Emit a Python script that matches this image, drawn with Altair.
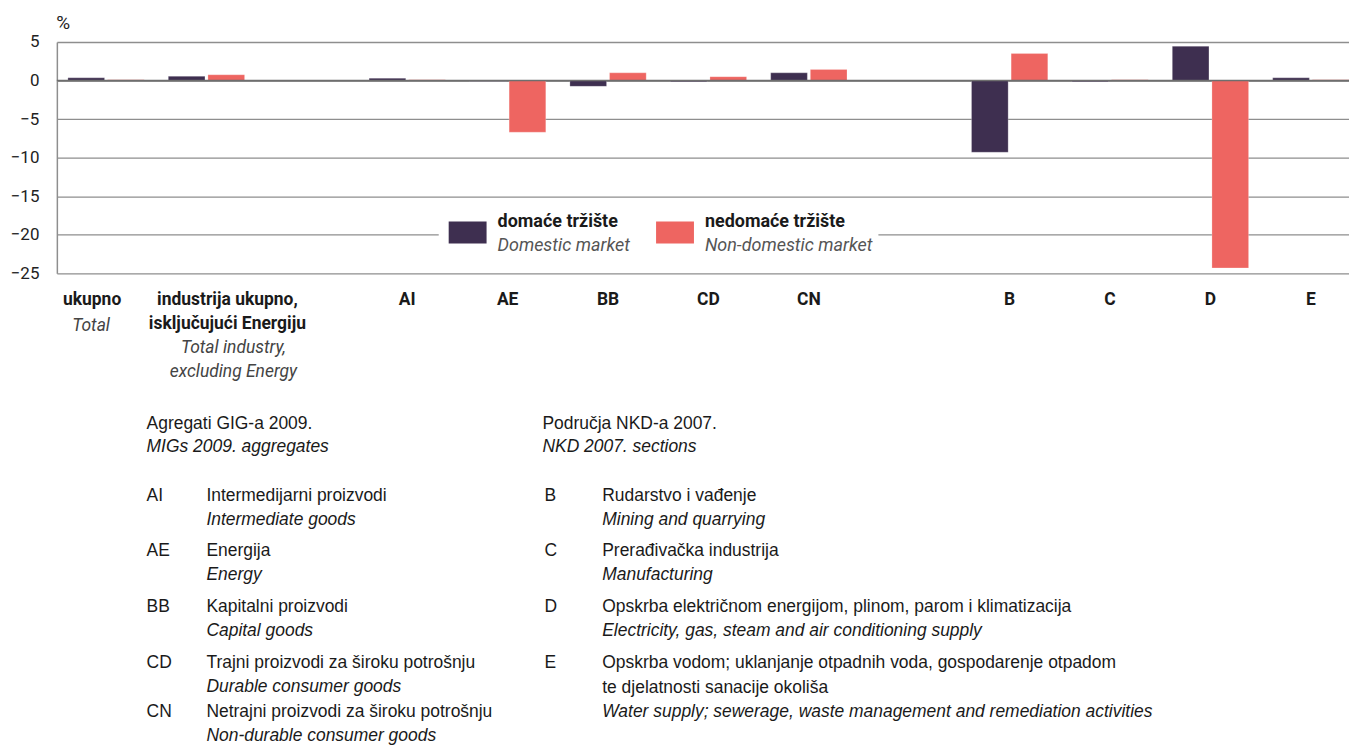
import altair as alt
import pandas as pd

# ---------------- data ----------------
slots = ["ukupno", "industrija", "gap1", "AI", "AE", "BB", "CD", "CN", "gap2", "B", "C", "D", "E"]
categories = ["ukupno", "industrija", "AI", "AE", "BB", "CD", "CN", "B", "C", "D", "E"]
domestic = [0.35, 0.55, 0.3, -0.1, -0.75, -0.15, 1.0, -9.3, -0.15, 4.45, 0.35]
nondomestic = [0.1, 0.75, 0.1, -6.7, 1.0, 0.5, 1.45, 3.5, 0.1, -24.3, 0.1]
series_hr = ["domaće tržište", "nedomaće tržište"]
series_en = ["Domestic market", "Non-domestic market"]
colors = ["#3e2f50", "#ee6561"]
y_ticks = [5, 0, -5, -10, -15, -20, -25]

bold_labels = {
    "ukupno": "ukupno",
    "industrija": "industrija ukupno,\nisključujući Energiju",
    "AI": "AI", "AE": "AE", "BB": "BB", "CD": "CD", "CN": "CN",
    "B": "B", "C": "C", "D": "D", "E": "E",
}
italic_total = "Total"
italic_industry = "Total industry,\nexcluding Energy"

left_header = ["Agregati GIG-a 2009.", "MIGs 2009. aggregates"]
right_header = ["Područja NKD-a 2007.", "NKD 2007. sections"]
left_codes = ["AI", "AE", "BB", "CD", "CN"]
left_hr = ["Intermedijarni proizvodi", "Energija", "Kapitalni proizvodi",
           "Trajni proizvodi za široku potrošnju", "Netrajni proizvodi za široku potrošnju"]
left_en = ["Intermediate goods", "Energy", "Capital goods",
           "Durable consumer goods", "Non-durable consumer goods"]
right_codes = ["B", "C", "D", "E"]
right_hr = ["Rudarstvo i vađenje", "Prerađivačka industrija",
            "Opskrba električnom energijom, plinom, parom i klimatizacija",
            "Opskrba vodom; uklanjanje otpadnih voda, gospodarenje otpadom\nte djelatnosti sanacije okoliša"]
right_en = ["Mining and quarrying", "Manufacturing",
            "Electricity, gas, steam and air conditioning supply",
            "Water supply; sewerage, waste management and remediation activities"]

rows = []
for c, d, n in zip(categories, domestic, nondomestic):
    rows.append({"cat": c, "series": series_hr[0], "value": d})
    rows.append({"cat": c, "series": series_hr[1], "value": n})
df = pd.DataFrame(rows)

# ---------------- styling ----------------
COND = "Roboto, Liberation Sans, sans-serif"
REG = "Liberation Sans, Arial, sans-serif"
W, H = 1296, 232
GRID = "#8e8e8e"

xscale = alt.Scale(domain=slots, paddingInner=0.24, paddingOuter=0.055, align=1)
X = alt.X("cat:N", scale=xscale, axis=None)
yscale = alt.Scale(domain=[-25, 5], nice=False, zero=False)

yaxis = alt.Axis(values=y_ticks, grid=True, gridColor=GRID, gridWidth=1.3,
                 domain=True, domainColor=GRID, domainWidth=1.5, ticks=False,
                 labelPadding=18, labelFontSize=17, labelColor="#222", labelFont=COND,
                 title="%", titleAngle=0, titleAlign="left", titleBaseline="middle",
                 titleX=-1, titleY=-20, titleFontSize=19, titleFontWeight="normal",
                 titleFont=COND, titleColor="#222")

bars = alt.Chart(df).mark_bar(stroke="#ffffff", strokeWidth=0.4, strokeOpacity=0.6).encode(
    x=X,
    xOffset=alt.XOffset("series:N", scale=alt.Scale(domain=series_hr, paddingInner=0.075)),
    y=alt.Y("value:Q", scale=yscale, axis=yaxis),
    color=alt.Color("series:N", scale=alt.Scale(domain=series_hr, range=colors), legend=None),
)

zero = alt.Chart(pd.DataFrame({"v": [0]})).mark_rule(color="#6e6e6e", strokeWidth=1.4).encode(
    y=alt.Y("v:Q", scale=yscale, axis=yaxis))

one = pd.DataFrame({"a": [0]})

# legend (drawn manually to allow two-line bold/italic labels)
legend_layers = [
    alt.Chart(one).mark_rect(fill="white").encode(
        x=alt.value(383), x2=alt.value(824), y=alt.value(168), y2=alt.value(216)),
]
for i, (lx, tx) in enumerate([(393, 442), (601, 650)]):
    legend_layers.append(alt.Chart(one).mark_rect(fill=colors[i]).encode(
        x=alt.value(lx), x2=alt.value(lx + 38), y=alt.value(180), y2=alt.value(202)))
    legend_layers.append(alt.Chart(one).mark_text(
        align="left", baseline="alphabetic", font=COND, fontSize=18, fontWeight="bold", color="#1a1a1a"
    ).encode(x=alt.value(tx), y=alt.value(186), text=alt.value(series_hr[i])))
    legend_layers.append(alt.Chart(one).mark_text(
        align="left", baseline="alphabetic", font=COND, fontSize=18, fontStyle="italic", color="#555"
    ).encode(x=alt.value(tx), y=alt.value(210), text=alt.value(series_en[i])))

# category labels under axis
bl_df = pd.DataFrame({"cat": list(bold_labels.keys()), "label": list(bold_labels.values())})
cat_bold = alt.Chart(bl_df[~bl_df.cat.isin(["ukupno", "industrija"])]).mark_text(
    align="center", baseline="alphabetic", font=COND, fontSize=17.5, fontWeight="bold",
    color="#1a1a1a"
).encode(x=X, y=alt.value(264), text="label:N")
cat_bold_ind = alt.Chart(bl_df[bl_df.cat == "industrija"]).mark_text(
    align="center", baseline="alphabetic", font=COND, fontSize=17.5, fontWeight="bold",
    color="#1a1a1a", lineBreak="\n", lineHeight=24, dx=21
).encode(x=X, y=alt.value(264), text="label:N")
cat_bold_u = alt.Chart(bl_df[bl_df.cat == "ukupno"]).mark_text(
    align="center", baseline="alphabetic", font=COND, fontSize=17.5, fontWeight="bold",
    color="#1a1a1a", dx=-14
).encode(x=X, y=alt.value(264), text="label:N")
cat_it_total = alt.Chart(pd.DataFrame({"cat": ["ukupno"], "label": [italic_total]})).mark_text(
    align="center", baseline="alphabetic", font=COND, fontSize=17.5, fontStyle="italic",
    color="#444", dx=-15
).encode(x=X, y=alt.value(290), text="label:N")
cat_it_ind = alt.Chart(pd.DataFrame({"cat": ["industrija"], "label": [italic_industry]})).mark_text(
    align="center", baseline="alphabetic", font=COND, fontSize=17.5, fontStyle="italic",
    color="#444", lineBreak="\n", lineHeight=24, dx=27
).encode(x=X, y=alt.value(312), text="label:N")

# notes below
def txt(s, x, y, italic=False, size=17.5):
    return alt.Chart(one).mark_text(
        align="left", baseline="alphabetic", font=REG, fontSize=size,
        fontStyle="italic" if italic else "normal", color="#1a1a1a",
        lineBreak="\n", lineHeight=25
    ).encode(x=alt.value(x), y=alt.value(y), text=alt.value(s))

notes = [
    txt(left_header[0], 90, 388), txt(left_header[1], 90, 411, italic=True),
    txt(right_header[0], 487, 388), txt(right_header[1], 487, 411, italic=True),
]
left_y = [460, 516, 572, 628, 677]
for code, hr, en, y in zip(left_codes, left_hr, left_en, left_y):
    notes += [txt(code, 90, y), txt(hr, 150, y), txt(en, 150, y + 24, italic=True)]
right_y = [460, 516, 572, 628]
for code, hr, en, y in zip(right_codes, right_hr, right_en, right_y):
    nl = hr.count("\n")
    notes += [txt(code, 489, y), txt(hr, 547, y), txt(en, 547, y + 24 + 25 * nl, italic=True)]

chart = alt.layer(
    bars, zero, *legend_layers, cat_bold, cat_bold_ind, cat_bold_u, cat_it_total, cat_it_ind, *notes
).properties(
    width=W, height=H,
    background="white",
    autosize=alt.AutoSizeParams(type="none"),
    padding={"left": 49, "top": 33, "right": 0, "bottom": 476},
).configure_view(strokeWidth=0)

chart.save("out.html", embed_options={"renderer": "svg", "actions": False})
